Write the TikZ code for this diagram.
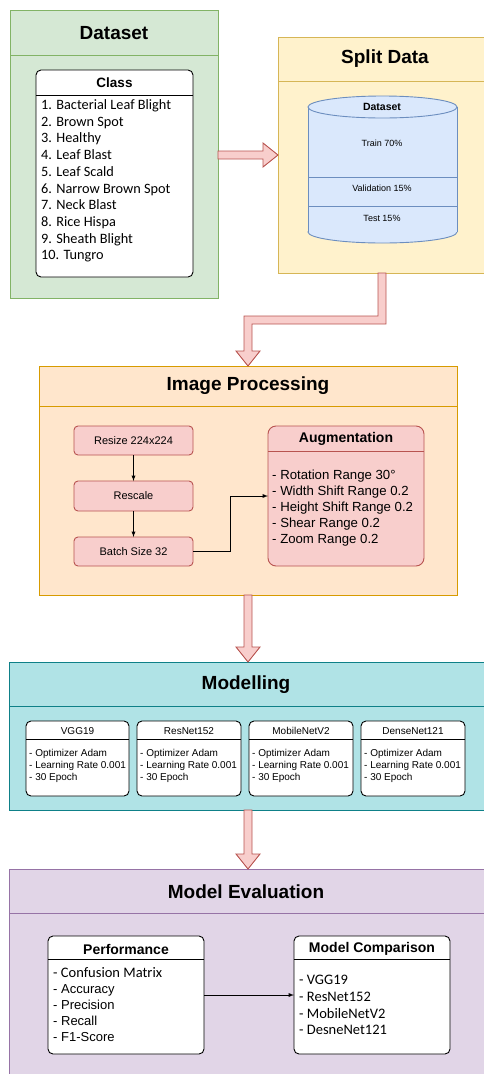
\documentclass[tikz,border=0pt]{standalone}
\usepackage{fontspec}
\setmainfont{Liberation Sans}
\newfontfamily\carlito{Carlito}
\usetikzlibrary{positioning, calc, arrows.meta}

\definecolor{dsfill}{HTML}{D5E8D4}
\definecolor{dsline}{HTML}{82B366}
\definecolor{spfill}{HTML}{FFF2CC}
\definecolor{spline}{HTML}{D6B656}
\definecolor{dbfill}{HTML}{DAE8FC}
\definecolor{dbline}{HTML}{6C8EBF}
\definecolor{ipfill}{HTML}{FFE6CC}
\definecolor{ipline}{HTML}{D79B00}
\definecolor{rdfill}{HTML}{F8CECC}
\definecolor{rdline}{HTML}{B85450}
\definecolor{mdfill}{HTML}{B0E3E6}
\definecolor{mdline}{HTML}{0E8088}
\definecolor{evfill}{HTML}{E1D5E7}
\definecolor{evline}{HTML}{9673A6}

\begin{document}
\begin{tikzpicture}[
    x=1pt, y=-1pt,
    panel/.style={draw, rectangle, anchor=north west, inner sep=0pt, outer sep=0pt, line width=0.9pt},
    ptitle/.style={font=\fontsize{19}{22}\selectfont\bfseries},
    card/.style={draw, rounded corners=5pt, fill=white, anchor=north west, inner sep=0pt, outer sep=0pt, line width=0.9pt},
    ctitle/.style={font=\fontsize{14}{17}\selectfont\bfseries},
    stepbox/.style={draw=rdline, fill=rdfill, rounded corners=4pt, line width=0.9pt, minimum width=119pt, minimum height=29pt, inner sep=0pt, outer sep=0pt, font=\fontsize{11}{13}\selectfont},
    cyltext/.style={font=\fontsize{9}{11}\selectfont},
    mtext/.style={font=\fontsize{10}{12}\selectfont},
    listtext/.style={align=left, anchor=west, inner sep=0pt},
    bigarrow/.style={draw=rdline, fill=rdfill, line width=0.9pt, line join=miter},
    ]
    \useasboundingbox (0,0) rectangle (484,1074);
    \clip (0,0) rectangle (484,1074);

    % Dataset panel
    \node[panel, draw=dsline, fill=dsfill, minimum width=208pt, minimum height=288pt] (dataset) at (10,10) {};
    \draw[dsline, line width=0.9pt] ([yshift=-45pt]dataset.north west) -- ([yshift=-45pt]dataset.north east);
    \node[ptitle] (dataset-title) at (114,33) {Dataset};
    % Class card
    \node[card, minimum width=157pt, minimum height=207pt] (class) at (36,70) {};
    \draw[line width=0.9pt] ([yshift=-25pt]class.north west) -- ([yshift=-25pt]class.north east);
    \node[font=\fontsize{13.5}{16}\selectfont\bfseries] (class-title) at (114.5,83) {Class};
    \node[listtext, font=\carlito\fontsize{14.3}{16.7}\selectfont] (class-list) at (41,181) {1. Bacterial Leaf Blight\\2. Brown Spot\\3. Healthy\\4. Leaf Blast\\5. Leaf Scald\\6. Narrow Brown Spot\\7. Neck Blast\\8. Rice Hispa\\9. Sheath Blight\\10. Tungro};

    % Split Data panel
    \node[panel, draw=spline, fill=spfill, minimum width=214pt, minimum height=236pt] (split) at (278,37) {};
    \draw[spline, line width=0.9pt] ([yshift=-44pt]split.north west) -- ([yshift=-44pt]split.north east);
    \node[ptitle] (split-title) at (385,59) {Split Data};
    % Dataset cylinder
    \draw[dbline, fill=dbfill, line width=0.9pt] (382.5,232) ellipse (74.5 and 11);
    \fill[dbfill] (308,107) rectangle (457,232);
    \draw[dbline, line width=0.9pt] (308,107) -- (308,232) (457,107) -- (457,232);
    \draw[dbline, fill=dbfill, line width=0.9pt] (382.5,107) ellipse (74.5 and 11);
    \draw[dbline, line width=0.9pt] (308,177) -- (457,177) (308,206) -- (457,206);
    \node[cyltext, font=\fontsize{10.5}{12}\selectfont\bfseries] (db-title) at (382,107) {Dataset};
    \node[cyltext] (db-train) at (382,143) {Train 70\%};
    \node[cyltext] (db-val) at (382,188) {Validation 15\%};
    \node[cyltext] (db-test) at (382,218) {Test 15\%};

    % Image Processing panel
    \node[panel, draw=ipline, fill=ipfill, minimum width=418pt, minimum height=229pt] (improc) at (39,366) {};
    \draw[ipline, line width=0.9pt] ([yshift=-40pt]improc.north west) -- ([yshift=-40pt]improc.north east);
    \node[ptitle] (improc-title) at (248,386) {Image Processing};
    % Steps
    \node[stepbox] (resize) at (133.5,440.5) {Resize 224x224};
    \node[stepbox, minimum height=30pt] (rescale) at (133.5,496) {Rescale};
    \node[stepbox] (batch) at (133.5,551.5) {Batch Size 32};
    % Augmentation card
    \node[card, draw=rdline, fill=rdfill, rounded corners=8pt, minimum width=156pt, minimum height=140pt] (aug) at (268,426) {};
    \draw[rdline, line width=0.9pt] ([yshift=-25pt]aug.north west) -- ([yshift=-25pt]aug.north east);
    \node[ctitle] (aug-title) at (346,439) {Augmentation};
    \node[listtext, font=\fontsize{13.2}{16}\selectfont] (aug-list) at (272,508) {- Rotation Range 30°\\- Width Shift Range 0.2\\- Height Shift Range 0.2\\- Shear Range 0.2\\- Zoom Range 0.2};

    % Modelling panel
    \node[panel, draw=mdline, fill=mdfill, minimum width=481pt, minimum height=148pt] (model) at (9,662) {};
    \draw[mdline, line width=0.9pt] ([yshift=-44pt]model.north west) -- ([yshift=-44pt]model.north east);
    \node[ptitle] (model-title) at (246,685) {Modelling};
    % Model cards
    \node[card, minimum width=103pt, minimum height=75pt] (m1) at (26,721) {};
    \node[card, minimum width=104pt, minimum height=75pt] (m2) at (137,721) {};
    \node[card, minimum width=104pt, minimum height=75pt] (m3) at (249,721) {};
    \node[card, minimum width=104pt, minimum height=75pt] (m4) at (361,721) {};
    \draw[line width=0.9pt] ([yshift=-18pt]m1.north west) -- ([yshift=-18pt]m1.north east);
    \draw[line width=0.9pt] ([yshift=-18pt]m2.north west) -- ([yshift=-18pt]m2.north east);
    \draw[line width=0.9pt] ([yshift=-18pt]m3.north west) -- ([yshift=-18pt]m3.north east);
    \draw[line width=0.9pt] ([yshift=-18pt]m4.north west) -- ([yshift=-18pt]m4.north east);
    \node[mtext] (m1-title) at (77.5,731) {VGG19};
    \node[mtext] (m2-title) at (189,731) {ResNet152};
    \node[mtext] (m3-title) at (301,731) {MobileNetV2};
    \node[mtext] (m4-title) at (413,731) {DenseNet121};
    \node[listtext, mtext] (m1-list) at (29,766) {- Optimizer Adam\\- Learning Rate 0.001\\- 30 Epoch};
    \node[listtext, mtext] (m2-list) at (140,766) {- Optimizer Adam\\- Learning Rate 0.001\\- 30 Epoch};
    \node[listtext, mtext] (m3-list) at (252,766) {- Optimizer Adam\\- Learning Rate 0.001\\- 30 Epoch};
    \node[listtext, mtext] (m4-list) at (364,766) {- Optimizer Adam\\- Learning Rate 0.001\\- 30 Epoch};

    % Model Evaluation panel
    \node[panel, draw=evline, fill=evfill, minimum width=481pt, minimum height=211pt] (evalp) at (9,869) {};
    \draw[evline, line width=0.9pt] ([yshift=-44pt]evalp.north west) -- ([yshift=-44pt]evalp.north east);
    \node[ptitle] (evalp-title) at (246,892) {Model Evaluation};
    % Performance card
    \node[card, minimum width=156pt, minimum height=118pt] (perf) at (48,936) {};
    \draw[line width=0.9pt] ([yshift=-23pt]perf.north west) -- ([yshift=-23pt]perf.north east);
    \node[ctitle] (perf-title) at (126,949) {Performance};
    \node[listtext, font=\fontsize{13}{15.8}\selectfont] (perf-list) at (53,1004.5) {{\carlito\fontsize{14.5}{15.8}\selectfont - Confusion Matrix}\\- Accuracy\\- Precision\\- Recall\\- F1-Score};
    % Model Comparison card
    \node[card, minimum width=156pt, minimum height=118pt] (comp) at (294,936) {};
    \draw[line width=0.9pt] ([yshift=-23pt]comp.north west) -- ([yshift=-23pt]comp.north east);
    \node[ctitle] (comp-title) at (372,949) {Model Comparison};
    \node[listtext, font=\carlito\fontsize{14.5}{16.7}\selectfont] (comp-list) at (299,1005) {- VGG19\\- ResNet152\\- MobileNetV2\\- DesneNet121};

    % Thin connectors
    \draw[-latex, line width=0.9pt] (resize) -- (rescale);
    \draw[-latex, line width=0.9pt] (rescale) -- (batch);
    \draw[-latex, line width=0.9pt] (batch.east) -| ($(batch.east)!0.5!(aug.west)$) |- (aug.west);
    \draw[-latex, line width=0.9pt] (perf.east) -- (comp.west);

    % Big arrows
    % Dataset -> Split Data
    \draw[bigarrow] ($(dataset.east |- split.west)+(0,-4)$) -- ($(split.west)+(-15,-4)$) -- ($(split.west)+(-15,-12)$)
        -- (split.west) -- ($(split.west)+(-15,12)$) -- ($(split.west)+(-15,4)$) -- ($(dataset.east |- split.west)+(0,4)$) -- cycle;
    % Split Data -> Image Processing
    \coordinate (sdown) at ($(split.south)+(-3,0)$);
    \coordinate (bend) at ($(sdown)+(0,47)$);
    \coordinate (turn) at (improc.north |- bend);
    \draw[bigarrow] ($(sdown)+(4,0)$) -- ($(bend)+(4,4)$) -- ($(turn)+(4,4)$) -- ($(improc.north)+(4,-15)$)
        -- ($(improc.north)+(12,-15)$) -- (improc.north) -- ($(improc.north)+(-12,-15)$) -- ($(improc.north)+(-4,-15)$)
        -- ($(turn)+(-4,-4)$) -- ($(bend)+(-4,-4)$) -- ($(sdown)+(-4,0)$) -- cycle;
    % Image Processing -> Modelling
    \coordinate (mtip) at (improc.south |- model.north);
    \draw[bigarrow] ($(improc.south)+(-4,0)$) -- ($(mtip)+(-4,-15)$) -- ($(mtip)+(-12,-15)$) -- (mtip)
        -- ($(mtip)+(12,-15)$) -- ($(mtip)+(4,-15)$) -- ($(improc.south)+(4,0)$) -- cycle;
    % Modelling -> Model Evaluation
    \coordinate (mstart) at (improc.south |- model.south);
    \coordinate (etip) at (improc.south |- evalp.north);
    \draw[bigarrow] ($(mstart)+(-4,0)$) -- ($(etip)+(-4,-15)$) -- ($(etip)+(-12,-15)$) -- (etip)
        -- ($(etip)+(12,-15)$) -- ($(etip)+(4,-15)$) -- ($(mstart)+(4,0)$) -- cycle;
\end{tikzpicture}
\end{document}
